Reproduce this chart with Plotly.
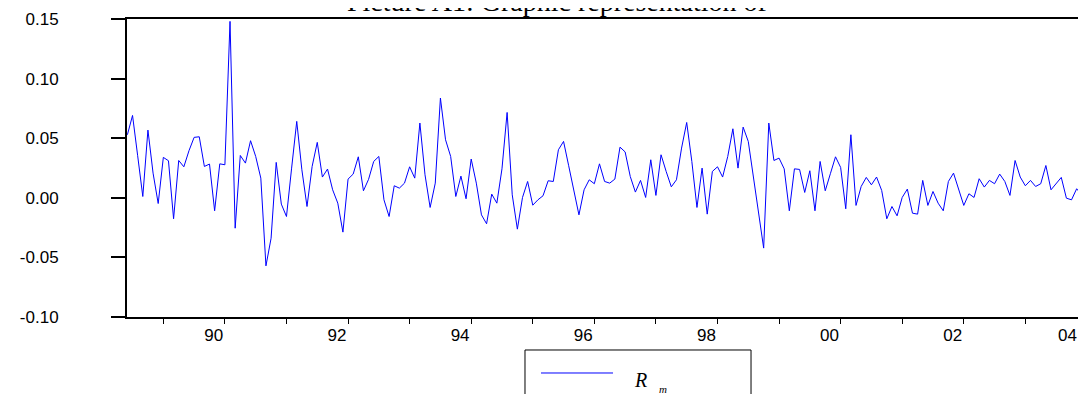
import plotly.graph_objects as go

# ---- data (monthly returns, starting June 1988) ----
start_year = 1988
start_month = 6
rm_values = [
    0.0529, 0.0691, 0.0353, 0.0011, 0.0568, 0.0207, -0.0048, 0.0339, 0.0311, -0.0176,
    0.0313, 0.0260, 0.0395, 0.0507, 0.0512, 0.0263, 0.0283, -0.0109, 0.0285, 0.0277,
    0.1480, -0.0255, 0.0355, 0.0291, 0.0479, 0.0347, 0.0165, -0.0571, -0.0339, 0.0297,
    -0.0053, -0.0157, 0.0249, 0.0641, 0.0235, -0.0073, 0.0263, 0.0465, 0.0174, 0.0241,
    0.0067, -0.0045, -0.0288, 0.0157, 0.0199, 0.0344, 0.0059, 0.0155, 0.0305, 0.0347,
    -0.0017, -0.0157, 0.0101, 0.0081, 0.0123, 0.0260, 0.0165, 0.0627, 0.0193, -0.0081,
    0.0123, 0.0837, 0.0487, 0.0347, 0.0011, 0.0182, -0.0008, 0.0325, 0.0123, -0.0143,
    -0.0218, 0.0031, -0.0045, 0.0243, 0.0716, 0.0025, -0.0263, 0.0003, 0.0137, -0.0062,
    -0.0017, 0.0017, 0.0143, 0.0137, 0.0403, 0.0473, 0.0269, 0.0062, -0.0143, 0.0067,
    0.0151, 0.0118, 0.0285, 0.0137, 0.0123, 0.0157, 0.0425, 0.0385, 0.0179, 0.0048,
    0.0146, 0.0003, 0.0319, 0.0020, 0.0361, 0.0221, 0.0092, 0.0151, 0.0417, 0.0632,
    0.0305, -0.0081, 0.0249, -0.0137, 0.0221, 0.0260, 0.0174, 0.0347, 0.0579, 0.0249,
    0.0593, 0.0473, 0.0165, -0.0115, -0.0422, 0.0627, 0.0313, 0.0333, 0.0243, -0.0109,
    0.0243, 0.0238, 0.0045, 0.0227, -0.0109, 0.0305, 0.0059, 0.0202, 0.0344, 0.0255,
    -0.0092, 0.0529, -0.0064, 0.0095, 0.0171, 0.0109, 0.0174, 0.0062, -0.0176, -0.0073,
    -0.0151, 0.0003, 0.0073, -0.0129, -0.0137, 0.0146, -0.0064, 0.0053, -0.0045, -0.0109,
    0.0137, 0.0207, 0.0062, -0.0064, 0.0034, 0.0003, 0.0160, 0.0090, 0.0146, 0.0118,
    0.0199, 0.0137, 0.0020, 0.0313, 0.0174, 0.0101, 0.0146, 0.0095, 0.0118, 0.0271,
    0.0067, 0.0118, 0.0171, -0.0003, -0.0017, 0.0076, 0.0025, -0.0003,
]
label_years = [1990, 1992, 1994, 1996, 1998, 2000, 2002, 2004]
label_text = ["90", "92", "94", "96", "98", "00", "02", "04"]
tick_years = list(range(1989, 2005))
y_ticks = [-0.10, -0.05, 0.00, 0.05, 0.10, 0.15]
y_tick_text = ["-0.10", "-0.05", "0.00", "0.05", "0.10", "0.15"]
series_name = "R m"
title_text = "Picture A1: Graphic representation of"

# decimal-year positions of the monthly observations
x_vals = [start_year + (start_month - 1 + i) / 12.0 for i in range(len(rm_values))]
x_range = [1988.41, 2003.985]
# label centres sit a little left of the year tick; keep the last one inside the page
label_pos = [min(y - 0.18, x_range[1] - 0.3) for y in label_years]

fig = go.Figure()
fig.add_trace(go.Scatter(
    x=x_vals, y=rm_values, mode="lines", name=series_name,
    line=dict(color="#0000FF", width=1), showlegend=False,
))
# invisible trace to host the label axis
fig.add_trace(go.Scatter(x=[x_range[0]], y=[0], xaxis="x2", mode="markers",
                         marker=dict(opacity=0), showlegend=False, hoverinfo="skip"))

fig.update_layout(
    width=1078, height=386,
    margin=dict(l=119, r=0, t=11, b=77, autoexpand=False),
    paper_bgcolor="white", plot_bgcolor="white",
    xaxis=dict(
        range=x_range, tickmode="array", tickvals=tick_years,
        showticklabels=False, ticks="outside", ticklen=5, tickwidth=1, tickcolor="black",
        showline=True, linecolor="black", linewidth=2, mirror=True,
        showgrid=False, zeroline=False,
    ),
    xaxis2=dict(
        overlaying="x", anchor="y", side="bottom", range=x_range,
        tickmode="array", tickvals=label_pos, ticktext=label_text,
        ticks="", showline=False, showgrid=False, zeroline=False,
        tickfont=dict(family="Liberation Sans, Arial", size=17, color="black"),
        ticklabelstandoff=6,
    ),
    yaxis=dict(
        range=[-0.10, 0.15], tickmode="array", tickvals=y_ticks, ticktext=y_tick_text,
        ticks="outside", ticklen=14, tickwidth=1.5, tickcolor="black",
        showline=True, linecolor="black", linewidth=2, mirror=False,
        showgrid=False, zeroline=False,
        tickfont=dict(family="Liberation Sans, Arial", size=17, color="black"),
        ticklabelstandoff=49,
    ),
)

# title (top partly cut off as in the reference)
fig.add_annotation(text=title_text, xref="paper", yref="paper", x=0.4485, y=1,
                   xanchor="center", yanchor="bottom", showarrow=False, yshift=0,
                   font=dict(family="Liberation Serif, Times New Roman", size=28, color="black"))

# legend box drawn below the plot
fig.add_shape(type="rect", xref="paper", yref="paper", x0=0.4150, x1=0.6507,
              y0=-0.3456, y1=-0.1107, line=dict(color="black", width=1))
fig.add_shape(type="line", xref="paper", yref="paper", x0=0.4317, x1=0.5068,
              y0=-0.1879, y1=-0.1879, line=dict(color="#0000FF", width=1))
fig.add_annotation(text="<i>R</i>", xref="paper", yref="paper", x=0.5355, y=-0.2114,
                   xanchor="center", yanchor="middle", showarrow=False,
                   font=dict(family="Liberation Serif, Times New Roman", size=20, color="black"))
fig.add_annotation(text="<i>m</i>", xref="paper", yref="paper", x=0.5589, y=-0.2400,
                   xanchor="center", yanchor="middle", showarrow=False,
                   font=dict(family="Liberation Serif, Times New Roman", size=11, color="black"))

fig.write_html("out.html")
